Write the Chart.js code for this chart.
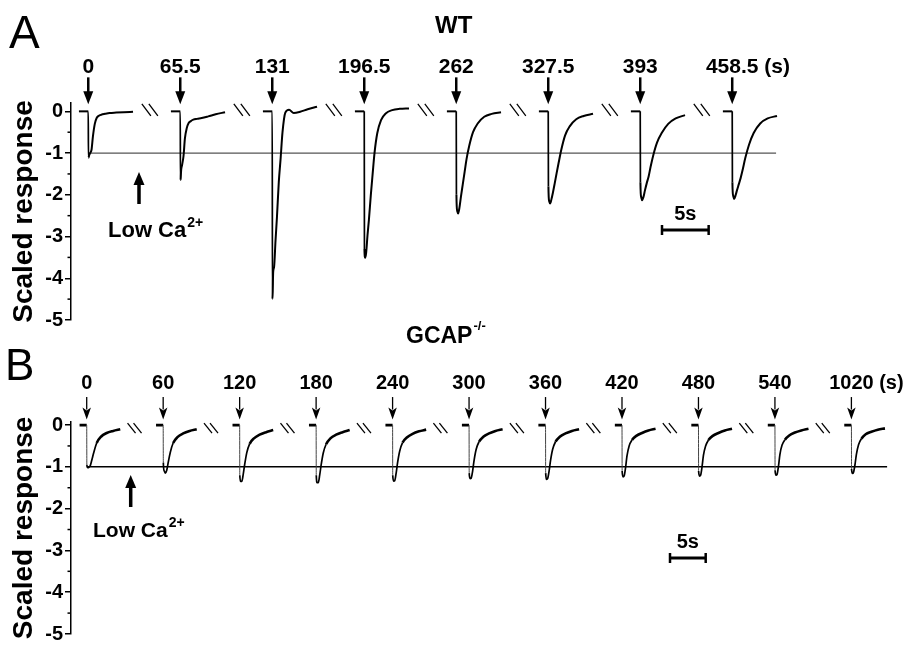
<!DOCTYPE html>
<html><head><meta charset="utf-8">
<script src="https://cdn.jsdelivr.net/npm/chart.js@4.4.1/dist/chart.umd.min.js"></script>
<style>
html,body{margin:0;padding:0;background:#fff;}
#wrap{position:relative;width:904px;height:648px;overflow:hidden;background:#fff;}
canvas{position:absolute;left:0;}
#cA{top:0;}
#cB{top:320px;}
</style></head><body>
<div id="wrap"><canvas id="cA" width="904" height="340"></canvas><canvas id="cB" width="904" height="328"></canvas></div>
<script>
// ---------- DATA ----------
const yTicks = [-5, -4, -3, -2, -1, 0];
const yMinorTicks = [-4.5, -3.5, -2.5, -1.5, -0.5];
const yTitle = 'Scaled response';
const timeUnit = '(s)';
const scaleBarSeconds = 5;
const referenceLevel = -1;

// Panel A (WT): flash times and traces sampled at wtTimes (s relative to flash)
const wtStimLabels = ['0', '65.5', '131', '196.5', '262', '327.5', '393', '458.5'];
const wtTimes = [-1, 0, 0.02, 0.1, 0.2, 0.35, 0.5, 0.7, 0.9, 1.1, 1.4, 1.8, 2.3, 3.0, 3.8, 4.8];
const wt0    = [0, 0, -1.11, -1.05, -1.0, -0.92, -0.6, -0.3, -0.16, -0.11, -0.08, -0.06, -0.04, -0.03, -0.02, -0.01];
const wt65   = [0, 0, -1.65, -1.4, -1.28, -1.07, -0.65, -0.4, -0.28, -0.24, -0.2, -0.18, -0.16, -0.12, -0.07, -0.02];
const wt131  = [0, 0, -4.5, -3.85, -3.72, -3.1, -2.55, -1.7, -1.12, -0.5, -0.03, 0.04, -0.04, -0.01, 0.05, 0.11];
const wt196  = [0, 0, -3.3, -3.51, -3.4, -2.97, -2.6, -2.02, -1.5, -1.0, -0.52, -0.21, -0.05, 0.03, 0.06, 0.07];
const wt262  = [0, 0, -2.0, -2.38, -2.45, -2.3, -2.05, -1.75, -1.45, -1.15, -0.82, -0.5, -0.29, -0.13, -0.06, -0.02];
const wt327  = [0, 0, -1.8, -2.15, -2.21, -2.1, -1.95, -1.72, -1.48, -1.25, -0.92, -0.58, -0.36, -0.19, -0.11, -0.06];
const wt393  = [0, 0, -1.7, -2.05, -2.13, -2.05, -1.9, -1.72, -1.56, -1.34, -1.05, -0.75, -0.52, -0.3, -0.17, -0.09];
const wt458  = [0, 0, -1.7, -2.02, -2.1, -2.02, -1.9, -1.75, -1.6, -1.42, -1.12, -0.8, -0.52, -0.29, -0.17, -0.11];
const wtTraces = [wt0, wt65, wt131, wt196, wt262, wt327, wt393, wt458];

// Panel B (GCAP-/-)
const gcStimLabels = ['0', '60', '120', '180', '240', '300', '360', '420', '480', '540', '1020'];
const gcTimes = [-1, 0, 0.02, 0.15, 0.3, 0.5, 0.7, 1.0, 1.4, 2.0, 2.8, 3.7, 4.7];
const gc0    = [0, 0, -0.95, -1.02, -1.01, -0.97, -0.85, -0.65, -0.43, -0.28, -0.19, -0.14, -0.1];
const gc60   = [0, 0, -0.9, -1.1, -1.15, -1.08, -0.9, -0.65, -0.43, -0.29, -0.2, -0.14, -0.1];
const gc120  = [0, 0, -1.2, -1.35, -1.35, -1.18, -0.95, -0.66, -0.45, -0.32, -0.23, -0.17, -0.12];
const gc180  = [0, 0, -1.2, -1.38, -1.38, -1.2, -0.96, -0.67, -0.46, -0.32, -0.23, -0.17, -0.12];
const gc240  = [0, 0, -1.2, -1.34, -1.33, -1.15, -0.9, -0.62, -0.42, -0.3, -0.21, -0.15, -0.11];
const gc300  = [0, 0, -1.15, -1.28, -1.27, -1.1, -0.85, -0.58, -0.4, -0.28, -0.2, -0.14, -0.1];
const gc360  = [0, 0, -1.15, -1.3, -1.28, -1.1, -0.85, -0.58, -0.4, -0.28, -0.2, -0.14, -0.1];
const gc420  = [0, 0, -1.1, -1.24, -1.22, -1.02, -0.74, -0.5, -0.36, -0.26, -0.19, -0.13, -0.09];
const gc480  = [0, 0, -1.1, -1.22, -1.2, -1.0, -0.72, -0.5, -0.36, -0.26, -0.19, -0.13, -0.09];
const gc540  = [0, 0, -1.08, -1.2, -1.18, -0.98, -0.7, -0.48, -0.35, -0.25, -0.18, -0.13, -0.09];
const gc1020 = [0, 0, -1.05, -1.16, -1.13, -0.95, -0.7, -0.47, -0.33, -0.22, -0.16, -0.11, -0.08];
const gcTraces = [gc0, gc60, gc120, gc180, gc240, gc300, gc360, gc420, gc480, gc540, gc1020];

// ---------- RENDERING ----------
const FONT = '"Liberation Sans", Arial, Helvetica, sans-serif';

function traceData(times, vals, i, slot) {
  return times.map((t, k) => ({ x: i * slot + t, y: vals[k] }));
}

function arrowDown(ctx, x, yTop, yTip, w, h, lw, notch) {
  ctx.lineWidth = lw;
  ctx.beginPath(); ctx.moveTo(x, yTop); ctx.lineTo(x, yTip - h + 2); ctx.stroke();
  ctx.beginPath();
  ctx.moveTo(x - w / 2, yTip - h);
  ctx.lineTo(x, yTip - h + notch);
  ctx.lineTo(x + w / 2, yTip - h);
  ctx.lineTo(x, yTip);
  ctx.closePath(); ctx.fill();
}
function arrowUp(ctx, x, yBot, yTip, w, h, lw) {
  ctx.lineWidth = lw;
  ctx.beginPath(); ctx.moveTo(x, yBot); ctx.lineTo(x, yTip + h - 2); ctx.stroke();
  ctx.beginPath();
  ctx.moveTo(x - w / 2, yTip + h);
  ctx.lineTo(x + w / 2, yTip + h);
  ctx.lineTo(x, yTip);
  ctx.closePath(); ctx.fill();
}

function annotationPlugin(s) {
  return {
    id: 'anno' + s.id,
    afterDraw(chart) {
      const ctx = chart.ctx, xs = chart.scales.x, ys = chart.scales.y, ca = chart.chartArea;
      const y0 = ys.getPixelForValue(0);
      const pxPerS = xs.getPixelForValue(1) - xs.getPixelForValue(0);
      ctx.save();
      ctx.strokeStyle = '#000'; ctx.fillStyle = '#000';
      // minor y ticks
      ctx.lineWidth = 1.5;
      yMinorTicks.forEach(v => {
        const y = ys.getPixelForValue(v);
        ctx.beginPath(); ctx.moveTo(ca.left - 3.5, y); ctx.lineTo(ca.left, y); ctx.stroke();
      });
      // stimulus labels + arrows
      ctx.font = 'bold ' + s.labelSize + 'px ' + FONT;
      ctx.textBaseline = 'alphabetic';
      s.labels.forEach((lab, i) => {
        const x = xs.getPixelForValue(i * s.slot);
        const w = ctx.measureText(lab).width;
        ctx.textAlign = 'left';
        ctx.fillText(i === s.labels.length - 1 ? lab + ' ' + timeUnit : lab, x - w / 2, y0 - s.labelDy);
        arrowDown(ctx, x, y0 - s.arrowTop, y0 - s.arrowTip, s.headW, s.headH, s.shaftW, s.notch);
      });
      // break marks
      ctx.lineWidth = s.breakW;
      for (let i = 0; i < s.labels.length - 1; i++) {
        const xc = xs.getPixelForValue(i * s.slot + s.breakAt);
        const yc = y0 + s.breakDy;
        [-s.breakGap, s.breakGap].forEach(d => {
          ctx.beginPath();
          ctx.moveTo(xc + d - s.breakDx, yc - s.breakH);
          ctx.lineTo(xc + d + s.breakDx, yc + s.breakH);
          ctx.stroke();
        });
      }
      // scale bar
      const bw = scaleBarSeconds * pxPerS;
      ctx.lineWidth = 3;
      ctx.beginPath(); ctx.moveTo(s.barLeft, s.barY); ctx.lineTo(s.barLeft + bw, s.barY); ctx.stroke();
      ctx.lineWidth = 2.5;
      [s.barLeft, s.barLeft + bw].forEach(x => {
        ctx.beginPath(); ctx.moveTo(x, s.barY - 5); ctx.lineTo(x, s.barY + 5); ctx.stroke();
      });
      ctx.font = 'bold 20px ' + FONT; ctx.textAlign = 'center';
      ctx.fillText(scaleBarSeconds + 's', s.barLeft + bw / 2, s.barY - 10);
      // panel letter
      ctx.textAlign = 'left';
      ctx.font = 'normal ' + s.letterSize + 'px ' + FONT;
      ctx.fillText(s.letter, s.letterX, s.letterY);
      // title
      ctx.font = 'bold ' + s.titleSize + 'px ' + FONT;
      const tw = ctx.measureText(s.title).width;
      ctx.fillText(s.title, s.titleX, s.titleY);
      if (s.titleSup) {
        ctx.font = 'bold 13px ' + FONT;
        ctx.fillText(s.titleSup, s.titleX + tw + 1, s.titleY - 13);
      }
      // Low Ca2+
      ctx.font = 'bold ' + s.lowSize + 'px ' + FONT;
      const lw = ctx.measureText('Low Ca').width;
      ctx.fillText('Low Ca', s.lowX, s.lowY);
      ctx.font = 'bold 14px ' + FONT;
      ctx.fillText('2+', s.lowX + lw + 1, s.lowY - 10);
      arrowUp(ctx, s.upX, s.upBot, s.upTip, 11, 13, 3.5);
      ctx.restore();
    }
  };
}

function makeChart(canvasId, c) {
  const datasets = c.traces.map((vals, i) => ({
    data: traceData(c.times, vals, i, c.slot),
    showLine: true, pointRadius: 0, borderColor: '#000', borderWidth: c.lineW,
    cubicInterpolationMode: 'monotone', fill: false, borderJoinStyle: 'round',
    segment: c.segment
  }));
  datasets.push({
    data: [{ x: 0, y: referenceLevel }, { x: (c.traces.length - 1) * c.slot + c.refEnd, y: referenceLevel }],
    showLine: true, pointRadius: 0, borderColor: c.refColor, borderWidth: c.refW, fill: false
  });
  return new Chart(document.getElementById(canvasId), {
    type: 'scatter',
    data: { datasets },
    options: {
      responsive: false, animation: false, devicePixelRatio: 1,
      layout: { padding: c.padding },
      plugins: { legend: { display: false }, tooltip: { enabled: false } },
      scales: {
        x: { type: 'linear', min: c.xMin, max: c.xMax, display: false },
        y: {
          min: -5, max: c.yMax,
          afterBuildTicks: sc => { sc.ticks = yTicks.map(v => ({ value: v })); },
          afterFit: sc => { sc.width = 71; },
          ticks: { color: '#000', font: { family: FONT, size: 20, weight: 'bold' }, padding: 2, callback: v => String(v) },
          grid: { drawOnChartArea: false, drawTicks: true, tickLength: 6, color: '#000', lineWidth: 1.5 },
          border: { display: true, color: '#000', width: 1.5 },
          title: { display: true, text: yTitle, color: '#000', font: { family: FONT, size: 28, weight: 'bold' }, padding: { top: 7, bottom: 0 } }
        }
      }
    },
    plugins: [annotationPlugin(c.anno)]
  });
}

makeChart('cA', {
  traces: wtTraces, times: wtTimes, slot: 9.86, lineW: 2,
  segment: { borderWidth: ctx => ctx.p0DataIndex === 1 ? 1.7 : 2 },
  refEnd: 4.7, refColor: '#555', refW: 1.2,
  padding: { top: 103, bottom: 20, left: 0, right: 10 },
  xMin: -1.85, xMax: -1.85 + 823 / 9.33, yMax: 0.2,
  anno: {
    id: 'A', labels: wtStimLabels, slot: 9.86, labelSize: 21, labelDy: 38,
    arrowTop: 34, arrowTip: 7, headW: 10, headH: 13, shaftW: 2.5, notch: 0,
    breakAt: 6.6, breakDy: -1.5, breakGap: 3.5, breakDx: 4.5, breakH: 6, breakW: 1.3,
    barLeft: 662, barY: 230,
    letter: 'A', letterSize: 46, letterX: 9, letterY: 48,
    title: 'WT', titleSup: '', titleSize: 24, titleX: 435, titleY: 33,
    lowSize: 22, lowX: 108, lowY: 237, upX: 139, upBot: 204, upTip: 172
  }
});

makeChart('cB', {
  traces: gcTraces, times: gcTimes, slot: 10.71, lineW: 1.7,
  segment: {
    borderWidth: ctx => ctx.p0DataIndex === 0 ? 2.8 : (ctx.p0DataIndex === 1 ? 1 : (ctx.p0DataIndex >= 8 ? 2.6 : 1.7)),
    borderColor: ctx => ctx.p0DataIndex === 1 ? '#444' : '#000'
  },
  refEnd: 5.0, refColor: '#000', refW: 1.5,
  padding: { top: 101.7, bottom: 9, left: 0, right: 10 },
  xMin: -2.2, xMax: -2.2 + 823 / 7.14, yMax: 0.08,
  anno: {
    id: 'B', labels: gcStimLabels, slot: 10.71, labelSize: 20, labelDy: 36,
    arrowTop: 28, arrowTip: 5.5, headW: 8.5, headH: 12, shaftW: 1.3, notch: 3,
    breakAt: 6.7, breakDy: 3, breakGap: 3, breakDx: 4, breakH: 5, breakW: 1.3,
    barLeft: 670, barY: 238,
    letter: 'B', letterSize: 44, letterX: 5, letterY: 60,
    title: 'GCAP', titleSup: '-/-', titleSize: 23, titleX: 406, titleY: 23,
    lowSize: 21, lowX: 93, lowY: 217, upX: 130.7, upBot: 187, upTip: 155
  }
});
</script>
</body></html>
